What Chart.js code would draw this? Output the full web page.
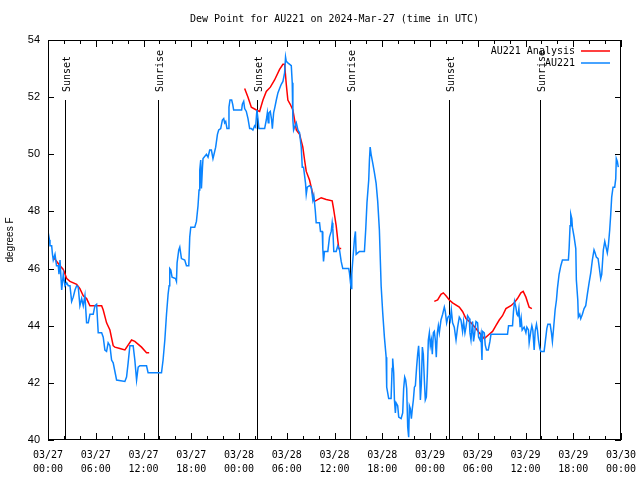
<!DOCTYPE html>
<html>
<head>
<meta charset="utf-8">
<script src="https://cdn.jsdelivr.net/npm/chart.js@4.4.1/dist/chart.umd.min.js"></script>
<style>
  html, body { margin: 0; padding: 0; background: #fff; }
</style>
</head>
<body>
<canvas id="dewChart" width="640" height="480"></canvas>
<script>
// times are hours after 2024-03-27 00:00 UTC
const obsHours = [
  0.00, 0.19, 0.25, 0.46, 0.56, 0.66, 0.88, 1.07, 1.29, 1.38,
  1.51, 1.63, 1.72, 1.92, 2.13, 2.35, 2.55, 2.76, 2.97, 3.17,
  3.39, 3.60, 3.80, 4.01, 4.23, 4.43, 4.64, 4.85, 5.06, 5.27,
  5.68, 5.90, 6.11, 6.31, 6.74, 6.94, 7.15, 7.36, 7.56, 7.78,
  7.99, 8.19, 8.62, 9.66, 9.87, 10.07, 10.29, 10.70, 10.91, 11.13,
  11.33, 11.54, 12.38, 12.58, 14.26, 14.46, 14.68, 14.89, 15.09, 15.22,
  15.30, 15.43, 15.59, 16.02, 16.14, 16.22, 16.43, 16.56, 16.77, 17.18,
  17.40, 17.69, 17.81, 17.94, 18.44, 18.65, 18.85, 18.98, 19.07, 19.19,
  19.28, 19.41, 19.48, 19.91, 20.11, 20.32, 20.53, 20.73, 20.86, 21.07,
  21.29, 21.45, 21.70, 21.91, 22.08, 22.20, 22.33, 22.49, 22.62, 22.74,
  22.87, 23.08, 23.21, 23.33, 24.33, 24.42, 24.59, 24.71, 24.92, 25.13,
  25.34, 25.55, 25.75, 25.96, 26.09, 26.25, 26.38, 26.50, 27.22, 27.43,
  27.56, 27.68, 27.76, 27.93, 28.10, 28.19, 28.35, 28.51, 28.69, 28.89,
  29.10, 29.31, 29.52, 29.73, 29.85, 29.94, 30.14, 30.57, 30.69, 30.77,
  30.86, 30.98, 31.20, 31.40, 31.61, 31.82, 31.95, 32.11, 32.36, 32.45,
  32.58, 32.86, 33.08, 33.28, 33.40, 33.58, 33.70, 34.12, 34.24, 34.46,
  34.53, 34.62, 34.74, 35.16, 35.37, 35.59, 35.71, 35.79, 35.91, 36.21,
  36.41, 36.63, 36.84, 37.04, 37.79, 37.88, 38.01, 38.10, 38.17, 38.30,
  38.51, 38.63, 38.72, 38.92, 39.14, 39.76, 39.93, 40.08, 40.30, 40.39,
  40.48, 40.60, 40.80, 41.02, 41.23, 41.43, 41.64, 41.86, 42.06, 42.27,
  42.49, 42.56, 42.81, 43.11, 43.24, 43.31, 43.44, 43.53, 43.65, 43.74,
  43.94, 44.07, 44.37, 44.57, 44.69, 44.82, 44.94, 45.07, 45.20, 45.32,
  45.41, 45.53, 45.66, 45.78, 45.91, 46.04, 46.16, 46.32, 46.45, 46.57,
  46.66, 46.79, 46.91, 47.04, 47.16, 47.29, 47.41, 47.54, 47.67, 47.79,
  47.92, 48.04, 48.17, 48.29, 48.42, 48.54, 48.67, 48.79, 48.92, 49.05,
  49.17, 49.38, 49.59, 49.80, 49.92, 50.09, 50.26, 50.43, 50.55, 50.68,
  50.84, 51.05, 51.27, 51.47, 51.68, 51.89, 52.09, 52.22, 52.39, 52.52,
  52.72, 52.93, 53.02, 53.15, 53.27, 53.35, 53.47, 53.60, 53.78, 53.98,
  54.10, 54.28, 54.40, 54.53, 54.60, 54.82, 54.94, 55.10, 55.32, 55.53,
  55.66, 57.74, 57.87, 58.37, 58.49, 58.62, 58.79, 58.92, 59.04, 59.17,
  59.33, 59.46, 59.58, 59.83, 60.05, 60.17, 60.37, 60.46, 60.67, 60.80,
  60.92, 61.09, 61.21, 61.38, 61.50, 61.63, 61.80, 61.93, 62.34, 62.47,
  62.68, 62.81, 63.10, 63.26, 63.38, 63.51, 63.72, 63.89, 64.01, 64.22,
  64.44, 64.64, 65.39, 65.48, 65.60, 65.69, 65.82, 65.89, 66.11, 66.32,
  66.39, 66.57, 66.64, 66.82, 66.94, 67.15, 67.36, 67.57, 67.77, 67.99,
  68.20, 68.40, 68.49, 68.61, 68.74, 68.90, 69.12, 69.24, 69.45, 69.58,
  69.65, 69.78, 69.96, 70.28, 70.41, 70.58, 70.71, 70.83, 71.00, 71.21,
  71.34, 71.41, 71.54, 71.66
];
const obsDewF = [
  47.3, 47.0, 46.8, 46.8, 46.5, 46.3, 46.5, 46.1, 46.1, 45.8,
  46.3, 46.3, 45.25, 45.8, 45.4, 45.5, 45.4, 45.4, 44.85, 45.0,
  45.25, 45.4, 45.35, 44.7, 44.95, 44.7, 45.05, 44.1, 44.1, 44.4,
  44.4, 44.7, 44.75, 43.75, 43.75, 43.6, 43.15, 43.1, 43.4, 43.3,
  42.8, 42.7, 42.1, 42.05, 42.2, 42.7, 43.3, 43.3, 42.8, 42.1,
  42.55, 42.6, 42.6, 42.35, 42.35, 42.8, 43.5, 44.4, 45.1, 45.4,
  46.0, 45.95, 45.7, 45.65, 45.55, 46.2, 46.65, 46.75, 46.35, 46.3,
  46.1, 46.1, 47.1, 47.45, 47.45, 47.65, 48.2, 48.75, 49.45, 49.8,
  48.8, 49.55, 49.85, 50.0, 49.9, 50.15, 50.15, 49.85, 50.0, 50.25,
  50.7, 50.85, 50.9, 51.2, 51.25, 51.1, 51.15, 50.9, 50.9, 51.65,
  51.9, 51.9, 51.75, 51.55, 51.55, 51.75, 51.85, 51.6, 51.5, 51.25,
  50.9, 50.9, 50.85, 51.0, 50.95, 51.55, 51.25, 50.9, 50.9, 51.2,
  51.45, 51.1, 51.45, 51.5, 51.2, 50.9, 51.45, 51.65, 51.9, 52.15,
  52.3, 52.45, 52.55, 52.85, 53.4, 53.25, 53.2, 53.1, 52.5, 51.2,
  50.85, 50.95, 51.1, 50.85, 50.75, 50.25, 49.55, 49.55, 48.98, 48.6,
  48.85, 48.9, 48.85, 48.4, 48.55, 48.05, 47.6, 47.6, 47.3, 47.3,
  46.7, 46.25, 46.6, 46.6, 47.1, 47.3, 47.6, 47.4, 46.6, 46.6,
  46.8, 46.65, 46.25, 46.0, 46.0, 45.85, 45.5, 45.3, 45.8, 46.3,
  47.05, 47.3, 46.5, 46.55, 46.6, 46.6, 47.4, 48.3, 49.1, 49.8,
  50.25, 50.0, 49.7, 49.35, 48.98, 48.35, 47.35, 45.4, 44.45, 43.6,
  42.9, 41.85, 41.45, 41.45, 42.5, 42.85, 42.35, 41.4, 40.95, 41.3,
  41.2, 40.8, 40.75, 40.95, 41.8, 42.2, 42.1, 41.8, 40.45, 40.1,
  41.2, 41.1, 40.75, 41.1, 41.4, 41.85, 41.9, 42.55, 43.0, 43.3,
  42.8, 41.4, 41.95, 43.25, 43.0, 42.1, 41.4, 41.5, 42.35, 43.5,
  43.75, 43.3, 43.5, 43.0, 43.75, 43.8, 43.5, 42.9, 43.75, 44.0,
  43.75, 44.2, 44.4, 44.65, 44.5, 44.1, 44.3, 44.35, 44.2, 44.55,
  44.1, 43.95, 43.5, 43.95, 44.3, 44.2, 43.8, 44.15, 43.75, 43.95,
  44.35, 44.25, 43.75, 43.5, 43.9, 44.15, 43.45, 43.7, 44.15, 44.1,
  43.6, 43.5, 43.7, 42.8, 43.8, 43.75, 43.33, 43.15, 43.15, 43.45,
  43.7, 43.7, 44.0, 44.0, 44.5, 44.85, 44.65, 44.4, 44.35, 44.6,
  43.95, 44.25, 43.85, 43.95, 43.75, 43.95, 43.85, 43.4, 43.8, 44.0,
  43.85, 43.15, 43.8, 44.05, 43.85, 43.5, 43.2, 43.1, 43.1, 43.4,
  43.9, 44.05, 44.05, 43.75, 43.45, 43.85, 44.55, 44.9, 45.3, 45.8,
  46.1, 46.3, 46.3, 46.7, 47.5, 47.9, 47.75, 47.45, 47.1, 46.7,
  45.6, 44.9, 44.3, 44.4, 44.25, 44.4, 44.6, 44.7, 45.1, 45.5,
  45.85, 46.3, 46.45, 46.65, 46.55, 46.4, 46.35, 46.1, 45.65, 45.8,
  46.1, 46.65, 46.95, 46.55, 46.8, 47.35, 47.9, 48.5, 48.85, 48.85,
  49.15, 49.85, 49.75, 49.55
];

// analysis, null = no analysis for that stretch
const anaHours = [
  0.66, 1.09, 1.51, 1.92, 2.35, 2.76, 3.60, 4.01, 4.43,
  4.85, 5.27, 6.74, 6.94, 7.36, 7.78, 8.19, 8.40, 9.03, 9.66,
  10.50, 10.91, 11.75, 12.38, 12.71,
  18.00,
  24.71, 25.13, 25.55, 26.18, 26.59, 27.01, 27.43, 27.94, 28.47, 29.10,
  29.52, 29.73, 29.94, 30.14, 30.44, 30.77, 31.20, 31.61, 32.02, 32.24,
  32.45, 32.86, 33.28, 33.49, 34.33, 34.96, 35.71, 35.88, 36.21, 36.41,
  36.54, 36.84,
  42.00,
  48.54, 48.96, 49.38, 49.67, 50.01, 50.43, 50.84, 51.68, 52.09, 52.52,
  53.15, 53.78, 54.19, 54.82, 55.44, 55.86, 56.28, 56.70, 57.11, 57.54,
  58.17, 58.58, 58.99, 59.42, 59.71, 60.05, 60.46, 60.80
];
const anaDewF = [
  46.4, 46.25, 46.1, 45.97, 45.65, 45.55, 45.45, 45.3, 45.05,
  44.95, 44.7, 44.7, 44.55, 44.1, 43.85, 43.3, 43.25, 43.2, 43.15,
  43.5, 43.45, 43.25, 43.05, 43.05,
  null,
  52.3, 52.0, 51.65, 51.55, 51.5, 51.9, 52.2, 52.35, 52.6, 52.97,
  53.15, 53.15, 52.45, 51.9, 51.75, 51.55, 50.85, 50.7, 50.25, 49.8,
  49.4, 49.1, 48.6, 48.35, 48.48, 48.42, 48.37, 48.1, 47.5, 47.0,
  46.7, 46.7,
  null,
  44.85, 44.9, 45.1, 45.15, 45.05, 44.9, 44.8, 44.65, 44.5, 44.25,
  44.1, 43.9, 43.75, 43.55, 43.7, 43.8, 44.0, 44.2, 44.35, 44.6,
  44.7, 44.8, 44.95, 45.15, 45.2, 45.0, 44.65, 44.6
];

const sunHours = [2.13, 13.84, 26.25, 37.92, 50.34, 61.88];
const sunNames = ["Sunset", "Sunrise", "Sunset", "Sunrise", "Sunset", "Sunrise"];
const dayLabels = ["03/27", "03/28", "03/29", "03/30"];
const yTickValues = [40, 42, 44, 46, 48, 50, 52, 54];

const chartTitle = "Dew Point for AU221 on 2024-Mar-27 (time in UTC)";
const MONO = '"DejaVu Sans Mono", monospace';
const SANS = '"Liberation Sans", Arial, sans-serif';
const OBS_COLOR = "#0a84ff";
const ANA_COLOR = "#ff0000";

const obsPoints = obsHours.map((h, i) => ({ x: h, y: obsDewF[i] }));
const anaPoints = anaHours.map((h, i) => ({ x: h, y: anaDewF[i] }));

function hourLabel(v) {
  if (v % 6 !== 0) return "";
  const day = dayLabels[Math.floor(v / 24)];
  const hh = String(v % 24).padStart(2, "0");
  return [day, hh + ":00"];
}

// title, border, inward ticks, sunrise/sunset markers and the key
const gnuplotFrame = {
  id: "gnuplotFrame",
  beforeDatasetsDraw(chart) {
    const { ctx, chartArea: a, scales } = chart;
    ctx.save();
    ctx.fillStyle = "#000";
    ctx.font = "10px " + MONO;
    ctx.textAlign = "center";
    ctx.textBaseline = "middle";
    ctx.fillText(chartTitle, (a.left + a.right) / 2, 19);

    ctx.strokeStyle = "#000";
    ctx.lineWidth = 1;
    const top = a.bottom - 0.85 * (a.bottom - a.top);
    sunHours.forEach((h, i) => {
      const x = Math.round(scales.x.getPixelForValue(h)) + 0.5;
      ctx.beginPath();
      ctx.moveTo(x, top);
      ctx.lineTo(x, a.bottom);
      ctx.stroke();
      ctx.save();
      ctx.translate(x + 2, top - 8);
      ctx.rotate(-Math.PI / 2);
      ctx.textAlign = "left";
      ctx.fillText(sunNames[i], 0, 0);
      ctx.restore();
    });
    ctx.restore();
  },
  afterDraw(chart) {
    const { ctx, chartArea: a, scales } = chart;
    ctx.save();
    ctx.strokeStyle = "#000";
    ctx.lineWidth = 1;
    ctx.strokeRect(a.left + 0.5, a.top + 0.5, a.right - a.left - 1, a.bottom - a.top - 1);
    ctx.beginPath();
    for (let h = 0; h <= 72; h += 2) {
      const x = Math.round(scales.x.getPixelForValue(h)) + 0.5;
      const len = h % 6 === 0 ? 7 : 4;
      ctx.moveTo(x, a.bottom); ctx.lineTo(x, a.bottom - len);
      ctx.moveTo(x, a.top); ctx.lineTo(x, a.top + len);
    }
    yTickValues.forEach(v => {
      const y = Math.round(scales.y.getPixelForValue(v)) + 0.5;
      ctx.moveTo(a.left, y); ctx.lineTo(a.left + 6, y);
      ctx.moveTo(a.right, y); ctx.lineTo(a.right - 6, y);
    });
    ctx.stroke();

    // key, top right inside the plot
    const keys = [["AU221 Analysis", ANA_COLOR], ["AU221", OBS_COLOR]];
    ctx.font = "10px " + MONO;
    ctx.textAlign = "right";
    ctx.textBaseline = "middle";
    ctx.lineWidth = 1.5;
    keys.forEach((k, i) => {
      const y = a.top + 11 + i * 12;
      ctx.fillStyle = "#000";
      ctx.fillText(k[0], a.right - 46, y);
      ctx.strokeStyle = k[1];
      ctx.beginPath();
      ctx.moveTo(a.right - 40, Math.round(y));
      ctx.lineTo(a.right - 11, Math.round(y));
      ctx.stroke();
    });
    ctx.restore();
  }
};

new Chart(document.getElementById("dewChart"), {
  type: "line",
  data: {
    datasets: [
      { label: "AU221", data: obsPoints, borderColor: OBS_COLOR, borderWidth: 1.5,
        pointRadius: 0, tension: 0, fill: false },
      { label: "AU221 Analysis", data: anaPoints, borderColor: ANA_COLOR, borderWidth: 1.5,
        pointRadius: 0, tension: 0, fill: false, spanGaps: false }
    ]
  },
  options: {
    responsive: false,
    animation: false,
    layout: { padding: { left: 0, right: 19, top: 40, bottom: 0 } },
    plugins: {
      legend: { display: false },
      tooltip: { enabled: false },
      title: { display: false }
    },
    scales: {
      x: {
        type: "linear",
        min: 0,
        max: 72,
        grid: { display: false, drawTicks: false },
        border: { display: false },
        afterFit(scale) {
          scale.height = 40;
          scale.paddingLeft = 0;
          scale.paddingRight = 0;
        },
        ticks: {
          stepSize: 2,
          autoSkip: false,
          maxRotation: 0,
          padding: 8,
          color: "#000",
          font: { family: MONO, size: 10, lineHeight: 1.4 },
          callback: hourLabel
        }
      },
      y: {
        min: 40,
        max: 54,
        grid: { display: false, drawTicks: false },
        border: { display: false },
        afterFit(scale) { scale.width = 48; },
        ticks: {
          stepSize: 2,
          padding: 8,
          color: "#000",
          font: { family: SANS, size: 11 }
        },
        title: {
          display: true,
          text: "degrees F",
          color: "#000",
          font: { family: SANS, size: 10 },
          padding: { top: 4, bottom: 0 }
        }
      }
    }
  },
  plugins: [gnuplotFrame]
});
</script>
</body>
</html>
